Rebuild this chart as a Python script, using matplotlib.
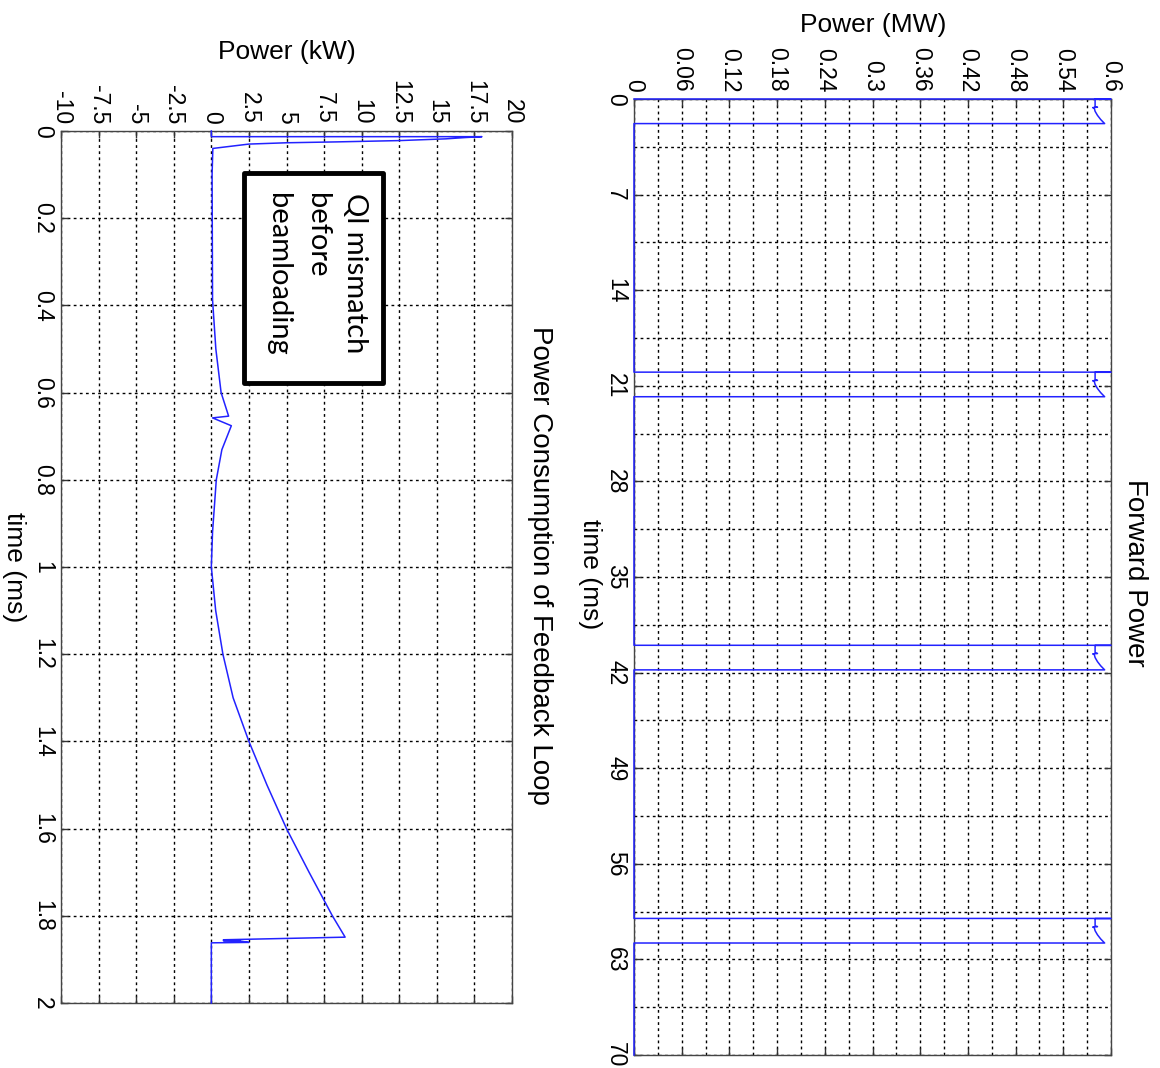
import numpy as np
import matplotlib
matplotlib.use('Agg')
import matplotlib.pyplot as plt
from matplotlib.patches import Rectangle
from matplotlib.ticker import FixedLocator

######Data
# forward power: one pulse shape (ms from pulse start, MW), repeated at pulse_starts
pulse_starts = [0, 20, 40, 60]
pulse_t = [0.0, 0.0, 0.01, 0.01, 0.55, 0.60, 0.63, 0.68, 0.90, 1.20, 1.50, 1.80, 1.80]
pulse_p = [0.0, 0.6, 0.6, 0.58, 0.58, 0.583, 0.577, 0.579, 0.580, 0.583, 0.587, 0.592, 0.0]
fwd_end = 70

# power consumption of feedback loop (ms, kW)
fb_t = [0.0, 0.013, 0.013, 0.015, 0.018, 0.022, 0.025, 0.027, 0.030, 0.040, 0.10,
        0.387, 0.50, 0.60, 0.654, 0.658, 0.676, 0.731, 0.80, 0.92, 1.0, 1.10, 1.20,
        1.30, 1.40, 1.50, 1.60, 1.70, 1.80, 1.849, 1.855, 1.856, 1.857, 1.858,
        1.861, 1.862, 2.0]
fb_p = [0.0, 0.0, 18.0, 16.9, 15.6, 12.5, 8.3, 5.0, 2.5, 0.1, 0.05,
        0.08, 0.3, 0.65, 1.15, 0.08, 1.33, 0.7, 0.33, 0.08, 0.0, 0.29, 0.77,
        1.45, 2.5, 3.7, 5.0, 6.5, 8.05, 8.9, 0.8, 1.9, 0.8, 1.9,
        2.5, 0.0, 0.0]

mw_ticks = [0, 0.06, 0.12, 0.18, 0.24, 0.3, 0.36, 0.42, 0.48, 0.54, 0.6]
mw_labels = ['0', '0.06', '0.12', '0.18', '0.24', '0.3', '0.36', '0.42', '0.48', '0.54', '0.6']
fwd_ms_ticks = [0, 7, 14, 21, 28, 35, 42, 49, 56, 63, 70]
kw_ticks = [-10, -7.5, -5, -2.5, 0, 2.5, 5, 7.5, 10, 12.5, 15, 17.5, 20]
kw_labels = ['-10', '-7.5', '-5', '-2.5', '0', '2.5', '5', '7.5', '10', '12.5', '15', '17.5', '20']
fb_ms_ticks = [0, 0.2, 0.4, 0.6, 0.8, 1.0, 1.2, 1.4, 1.6, 1.8, 2.0]
fb_ms_labels = ['0', '0.2', '0.4', '0.6', '0.8', '1', '1.2', '1.4', '1.6', '1.8', '2']

######build the pulse train
fwd_t = []
fwd_p = []
for s in pulse_starts:
    fwd_t += [s + x for x in pulse_t]
    fwd_p += pulse_p
fwd_t.append(fwd_end)
fwd_p.append(0.0)

W, H = 1160, 1068
plt.rcParams['font.family'] = ['Liberation Sans', 'DejaVu Sans']
fig = plt.figure(figsize=(W / 100, H / 100), dpi=100)

def px_axes(x0, y0, x1, y1):
    # axes from pixel box (top-left origin)
    return fig.add_axes([x0 / W, 1 - y1 / H, (x1 - x0) / W, (y1 - y0) / H])

def setup(ax, xlim, xt, xl, tmax, yt, yl, xminor=None, yminor=None):
    '''
    rotated matlab look: power along x (labels on top), time down the y axis
    '''
    ax.set_xlim(xlim)
    ax.set_ylim(tmax, 0)
    ax.xaxis.set_major_locator(FixedLocator(xt))
    ax.yaxis.set_major_locator(FixedLocator(yt))
    ax.set_xticklabels(xl, rotation=-90)
    ax.set_yticklabels(yl, rotation=-90, va='center')
    if xminor is not None:
        ax.xaxis.set_minor_locator(FixedLocator(xminor))
    if yminor is not None:
        ax.yaxis.set_minor_locator(FixedLocator(yminor))
    ax.tick_params(which='major', direction='in', length=5, width=1.0,
                   top=True, bottom=True, left=True, right=True,
                   labeltop=True, labelbottom=False, labelsize=16.5, pad=5,
                   color='#333333')
    ax.tick_params(which='minor', length=0, top=True, bottom=True, left=True, right=True)
    ax.grid(True, which='both', color='k', linestyle=(0, (2.0, 2.4)), linewidth=1.0)
    for sp in ax.spines.values():
        sp.set_color('#444444')
        sp.set_linewidth(1.0)

#########Forward power (right)
ax1 = px_axes(634, 99, 1111, 1055)
ax1.plot(fwd_p, fwd_t, color='#2222ff', lw=1.1, clip_on=False, zorder=5)
setup(ax1, (0, 0.6), mw_ticks, mw_labels, 70, fwd_ms_ticks, [str(v) for v in fwd_ms_ticks],
      xminor=[0.03 + 0.06 * i for i in range(10)],
      yminor=[3.5 + 7 * i for i in range(10)])

#########Feedback loop (left)
ax2 = px_axes(61, 131, 512, 1003)
ax2.plot(fb_p, fb_t, color='#2222ff', lw=1.1, clip_on=False, zorder=5)
setup(ax2, (-10, 20), kw_ticks, kw_labels, 2.0, fb_ms_ticks, fb_ms_labels)

# annotation box
ax2.add_patch(Rectangle((2.2, 0.096), 9.25, 0.481, facecolor='white', edgecolor='black',
                        lw=3.5, joinstyle='round', zorder=6))
ax2.text(10.45, 0.143, 'Ql mismatch\nbefore\nbeamloading', rotation=-90,
         ha='right', va='top', multialignment='left', fontsize=21,
         family=['Lato', 'DejaVu Sans'], linespacing=1.6, zorder=7)

#########labels, titles
fs_lab = 19
fig.text(873 / W, 1 - 25 / H, 'Power (MW)', ha='center', va='center', fontsize=fs_lab)
fig.text(287 / W, 1 - 52 / H, 'Power (kW)', ha='center', va='center', fontsize=fs_lab)
fig.text(590 / W, 1 - 574 / H, 'time (ms)', ha='center', va='center', rotation=-90, fontsize=fs_lab)
fig.text(14 / W, 1 - 567 / H, 'time (ms)', ha='center', va='center', rotation=-90, fontsize=fs_lab)
fig.text(1135 / W, 1 - 573 / H, 'Forward Power', ha='center', va='center', rotation=-90, fontsize=20)
fig.text(540 / W, 1 - 565 / H, 'Power Consumption of Feedback Loop', ha='center', va='center',
         rotation=-90, fontsize=20)

fig.savefig('out.png', dpi=100)
